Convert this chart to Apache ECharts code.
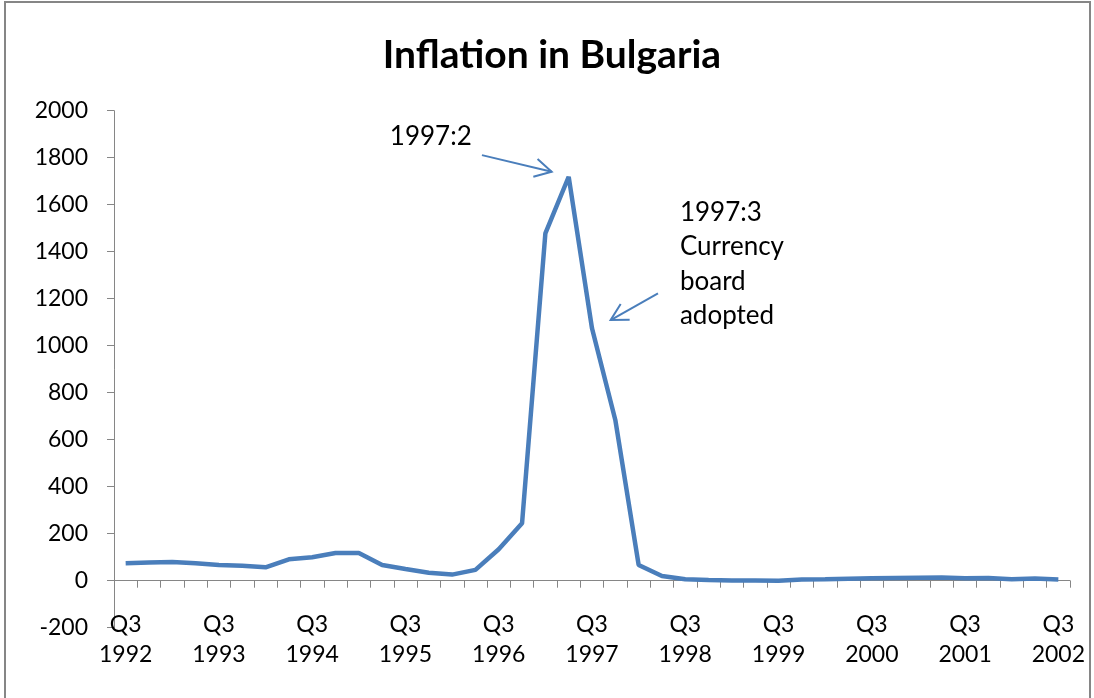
<!DOCTYPE html>
<html>
<head>
<meta charset="utf-8">
<script src="https://cdn.jsdelivr.net/npm/echarts@6/dist/echarts.min.js"></script>
<style>
html,body{margin:0;padding:0;background:#fff;}
#chart{width:1094px;height:698px;}
</style>
</head>
<body>
<div id="chart"></div>
<script>
const categories = [
  '1992 Q3','1992 Q4','1993 Q1','1993 Q2','1993 Q3','1993 Q4','1994 Q1','1994 Q2',
  '1994 Q3','1994 Q4','1995 Q1','1995 Q2','1995 Q3','1995 Q4','1996 Q1','1996 Q2',
  '1996 Q3','1996 Q4','1997 Q1','1997 Q2','1997 Q3','1997 Q4','1998 Q1','1998 Q2',
  '1998 Q3','1998 Q4','1999 Q1','1999 Q2','1999 Q3','1999 Q4','2000 Q1','2000 Q2',
  '2000 Q3','2000 Q4','2001 Q1','2001 Q2','2001 Q3','2001 Q4','2002 Q1','2002 Q2',
  '2002 Q3'
];
const inflation = [
  74, 77, 80, 74, 67, 64, 57, 91,
  100, 118, 118, 67, 50, 34, 26, 46,
  134, 244, 1478, 1719, 1074, 684, 67, 20,
  6, 3, 1, 1, 0, 5, 6, 8,
  10, 12, 13, 14, 10, 11, 6, 9,
  5
];
const yTicks = { min: -200, max: 2000, interval: 200 };
const titleText = 'Inflation in Bulgaria';
// annotations: anchors in data space [category index (fractional), value]
const note1 = { text: '1997:2', at: [11.33, 1888] };
const note2 = { text: '1997:3\nCurrency\nboard\nadopted', at: [23.77, 1569] };
const arrows = [
  { from: [15.28, 1811], to: [18.27, 1740] },
  { from: [22.83, 1223], to: [20.80, 1109] }
];

const FONT = 'Lato, "Open Sans", sans-serif';
const BLUE = '#4a7ebb';
const GRAY = '#868686';

const chart = echarts.init(document.getElementById('chart'), null, { renderer: 'canvas' });
chart.setOption({
  backgroundColor: '#fff',
  animation: false,
  grid: { left: 114, right: 24, top: 110.7, bottom: 70.3, containLabel: false, outerBoundsMode: 'none' },
  xAxis: [{
    type: 'category',
    data: categories,
    boundaryGap: true,
    axisLine: { onZero: true, lineStyle: { color: GRAY, width: 1 } },
    axisTick: { show: true, interval: 0, length: 7, lineStyle: { color: GRAY } },
    axisLabel: { show: false },
    splitLine: { show: false }
  }, {
    type: 'category',
    data: categories,
    boundaryGap: true,
    position: 'bottom',
    axisLine: { show: false, onZero: false },
    axisTick: { show: false },
    axisLabel: {
      interval: 3,
      margin: -18,
      color: '#000',
      fontFamily: FONT,
      fontSize: 23,
      lineHeight: 30,
      formatter: function (v) { const p = v.split(' '); return p[1] + '\n' + p[0]; }
    },
    splitLine: { show: false }
  }],
  yAxis: {
    type: 'value',
    min: yTicks.min, max: yTicks.max, interval: yTicks.interval,
    axisLine: { show: true, lineStyle: { color: GRAY, width: 1 } },
    axisTick: { show: true, length: 7, lineStyle: { color: GRAY } },
    axisLabel: { color: '#000', fontFamily: FONT, fontSize: 23, margin: 26,
                 formatter: function (v) { return String(v); } },
    splitLine: { show: false }
  },
  series: [{
    type: 'line',
    data: inflation,
    xAxisIndex: 0,
    showSymbol: false,
    symbol: 'none',
    lineStyle: { color: BLUE, width: 4.5 },
    itemStyle: { color: BLUE }
  }]
});

function px(pt) {
  const i0 = Math.floor(pt[0]);
  const a = chart.convertToPixel({ xAxisIndex: 0, yAxisIndex: 0 }, [i0, pt[1]]);
  const b = chart.convertToPixel({ xAxisIndex: 0, yAxisIndex: 0 }, [i0 + 1, pt[1]]);
  const f = pt[0] - i0;
  return [a[0] + (b[0] - a[0]) * f, a[1]];
}

const graphics = [];
graphics.push({
  type: 'rect', shape: { x: 5, y: 2, width: 1085, height: 720 },
  style: { fill: null, stroke: GRAY, lineWidth: 2 }, z: -1
});
graphics.push({
  type: 'text', x: 552, y: 55,
  style: { text: titleText, fontFamily: FONT, fontSize: 39, fontWeight: 'bold', fill: '#000',
           textAlign: 'center', textVerticalAlign: 'middle' }
});
const p1 = px(note1.at);
graphics.push({
  type: 'text', x: p1[0], y: p1[1],
  style: { text: note1.text, fontFamily: FONT, fontSize: 26, fill: '#000',
           textAlign: 'left', textVerticalAlign: 'middle' }
});
const p2 = px(note2.at);
graphics.push({
  type: 'text', x: p2[0], y: p2[1] - 17,
  style: { text: note2.text, fontFamily: FONT, fontSize: 26, lineHeight: 34.5, fill: '#000',
           textAlign: 'left', textVerticalAlign: 'top' }
});
arrows.forEach(function (a) {
  const s = px(a.from), e = px(a.to);
  const ang = Math.atan2(e[1] - s[1], e[0] - s[0]);
  const L = 19, spread = 0.5;
  const h1 = [e[0] - L * Math.cos(ang - spread), e[1] - L * Math.sin(ang - spread)];
  const h2 = [e[0] - L * Math.cos(ang + spread), e[1] - L * Math.sin(ang + spread)];
  graphics.push({ type: 'line', shape: { x1: s[0], y1: s[1], x2: e[0], y2: e[1] },
    style: { stroke: BLUE, lineWidth: 2 } });
  graphics.push({ type: 'polyline', shape: { points: [h1, e, h2] },
    style: { stroke: BLUE, lineWidth: 2, fill: null } });
});
chart.setOption({ graphic: graphics });
</script>
</body>
</html>
